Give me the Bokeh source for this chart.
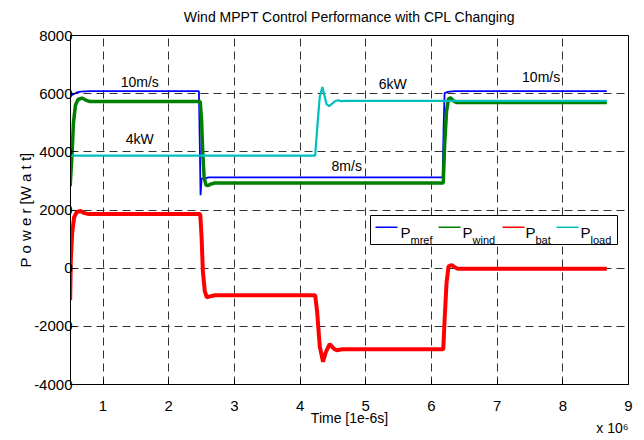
from bokeh.plotting import figure
from bokeh.models import Label, BoxAnnotation, Range1d, FixedTicker, Title, LinearAxis
from bokeh.embed import file_html
from bokeh.resources import INLINE

# ---------------- data (time in units of 1e6 x 1e-6 s, power in W) ----------------
t_mref = [0.50, 0.53, 0.56, 0.60, 0.66, 0.80, 2.46, 2.475, 2.485, 2.50, 2.57, 2.60,
          6.17, 6.185, 6.20, 6.25, 6.35, 8.67]
p_mref = [6010, 5960, 5990, 6040, 6070, 6085, 6085, 4000, 2510, 3080, 3090, 3120,
          3120, 4800, 6020, 6060, 6090, 6090]

t_wind = [0.50, 0.53, 0.55, 0.58, 0.62, 0.68, 0.73, 0.80, 2.48, 2.50, 2.52, 2.54,
          2.57, 2.60, 2.64, 2.70, 6.18, 6.20, 6.23, 6.26, 6.29, 6.33, 6.38, 8.67]
p_wind = [2820, 4000, 5000, 5600, 5800, 5850, 5790, 5730, 5730, 5100, 3900, 3100,
          2850, 2840, 2890, 2930, 2930, 4200, 5400, 5820, 5860, 5760, 5700, 5700]

t_bat = [0.50, 0.51, 0.53, 0.56, 0.60, 0.66, 0.71, 0.78, 2.48, 2.50, 2.52, 2.55,
         2.58, 2.63, 2.70, 4.23, 4.26, 4.30, 4.35, 4.39, 4.45, 4.51, 4.56, 4.64,
         6.18, 6.20, 6.23, 6.26, 6.31, 6.35, 6.40, 8.67]
p_bat = [-1100, 300, 1200, 1750, 1930, 1965, 1900, 1860, 1860, 1100, -100, -800,
         -1000, -970, -930, -930, -1500, -2700, -3220, -2900, -2610, -2760, -2820, -2790,
         -2790, -1800, -500, 60, 110, 40, -20, -20]

t_load = [0.50, 4.23, 4.26, 4.30, 4.34, 4.37, 4.40, 4.44, 4.48, 4.53, 4.58, 4.63,
          4.69, 8.67]
p_load = [3870, 3870, 4800, 5900, 6230, 5950, 5650, 5570, 5640, 5740, 5775, 5745,
          5750, 5750]

x_ticks = [1, 2, 3, 4, 5, 6, 7, 8, 9]
y_ticks = [-4000, -2000, 0, 2000, 4000, 6000, 8000]
x_tick_labels = ["1", "2", "3", "4", "5", "6", "7", "8", "9"]
y_tick_labels = ["-4000", "-2000", "0", "2000", "4000", "6000", "8000"]

note_text = ["10m/s", "4kW", "8m/s", "6kW", "10m/s"]
note_x = [1.56, 1.56, 4.71, 5.41, 7.67]
note_y = [6400, 4430, 3505, 6346, 6573]

series_names = ["mref", "wind", "bat", "load"]
series_colors = ["#0000ff", "#008000", "#ff0000", "#00bfbf"]

chart_title = "Wind MPPT Control Performance with CPL Changing"

# ---------------- layout ----------------
W, H = 644, 440
FL, FR, FT, FB = 70, 628, 35, 384          # frame edges (px)
X0, X1 = 0.505, 9.0
Y0, Y1 = -4000, 8000
FONT = "Liberation Sans"


def xpx(px):
    return X0 + (px - FL) * (X1 - X0) / (FR - FL)


def ypx(py):
    return Y1 - (py - FT) * (Y1 - Y0) / (FB - FT)


p = figure(width=W, height=H, output_backend="svg", toolbar_location=None,
           x_range=Range1d(X0, X1), y_range=Range1d(Y0, Y1),
           min_border_left=FL, min_border_right=W - FR,
           min_border_top=FT, min_border_bottom=H - FB)

p.background_fill_color = "white"
p.border_fill_color = "white"
p.outline_line_color = "black"
p.outline_line_width = 1

bottom_axis = p.below[0]
left_axis = p.left[0]

for ax in (bottom_axis, left_axis):
    ax.major_tick_in = 5
    ax.major_tick_out = 0
    ax.minor_tick_line_color = None
    ax.axis_line_color = "black"
    ax.major_tick_line_color = "black"
    ax.major_label_text_font = FONT
    ax.major_label_text_font_size = "15px"
    ax.major_label_text_color = "black"
    ax.axis_label_text_font = FONT
    ax.axis_label_text_font_size = "15px"
    ax.axis_label_text_font_style = "normal"
    ax.axis_label_text_color = "black"

bottom_axis.ticker = FixedTicker(ticks=x_ticks)
left_axis.ticker = FixedTicker(ticks=y_ticks)
bottom_axis.major_label_overrides = dict(zip(x_ticks, x_tick_labels))
left_axis.major_label_overrides = dict(zip(y_ticks, y_tick_labels))
bottom_axis.axis_label = "Time [1e-6s]"
bottom_axis.axis_label_text_font_size = "14px"
left_axis.axis_label = "P o w e r [W a t t]"
bottom_axis.major_label_standoff = 16
bottom_axis.axis_label_standoff = -4
left_axis.major_label_standoff = -2
left_axis.axis_label_standoff = -3

# title drawn as the label of a tick-less top axis, so its distance from the
# frame follows axis_label_standoff
top_axis = LinearAxis(ticker=FixedTicker(ticks=[]), axis_label=chart_title,
                      axis_label_text_font=FONT, axis_label_text_font_size="14px",
                      axis_label_text_font_style="normal", axis_label_text_color="black",
                      axis_label_standoff=11, major_label_standoff=0,
                      major_tick_in=0, major_tick_out=0, minor_tick_in=0, minor_tick_out=0,
                      axis_line_color="black")
p.add_layout(top_axis, "above")

# multiplier of the time axis, right-aligned under the axis
p.add_layout(Title(text="x 10\u2076", align="right", vertical_align="top",
                   text_font=FONT, text_font_size="14px", text_font_style="normal",
                   text_color="black", standoff=-18), "below")

for g in (p.xgrid, p.ygrid):
    g.grid_line_color = "#303030"
    g.grid_line_dash = "8 5"
    g.grid_line_width = 1

# ---------------- series ----------------
p.line(t_mref, p_mref, line_color=series_colors[0], line_width=1.8)
p.line(t_wind, p_wind, line_color=series_colors[1], line_width=3.5)
p.line(t_bat, p_bat, line_color=series_colors[2], line_width=4)
p.line(t_load, p_load, line_color=series_colors[3], line_width=2.2)

# ---------------- notes ----------------
for txt, x, y in zip(note_text, note_x, note_y):
    p.add_layout(Label(x=x, y=y, text=txt, text_align="center", text_baseline="middle",
                       text_font=FONT, text_font_size="14px", text_color="black"))

# ---------------- legend (P with subscripts) ----------------
p.add_layout(BoxAnnotation(left=xpx(370), right=xpx(617), top=ypx(215), bottom=ypx(244),
                           fill_color="white", fill_alpha=1.0, line_color="black",
                           line_width=1, line_alpha=1.0))
sample_x = [375, 438, 502, 556]
p_x = [400, 462, 525, 580]
for name, color, sx, px_ in zip(series_names, series_colors, sample_x, p_x):
    p.add_layout(BoxAnnotation(left=xpx(sx), right=xpx(sx + 22), top=ypx(226),
                               bottom=ypx(227.6), fill_color=color, fill_alpha=1.0,
                               line_alpha=0))
    p.add_layout(Label(x=xpx(px_), y=ypx(231.7), text="P", text_align="left",
                       text_baseline="alphabetic", text_font=FONT,
                       text_font_size="15px", text_color="black"))
    p.add_layout(Label(x=xpx(px_ + 10), y=ypx(239), text=name, text_align="left",
                       text_baseline="alphabetic", text_font=FONT,
                       text_font_size="11px", text_color="black"))

open("out.html", "w").write(file_html(p, INLINE))
